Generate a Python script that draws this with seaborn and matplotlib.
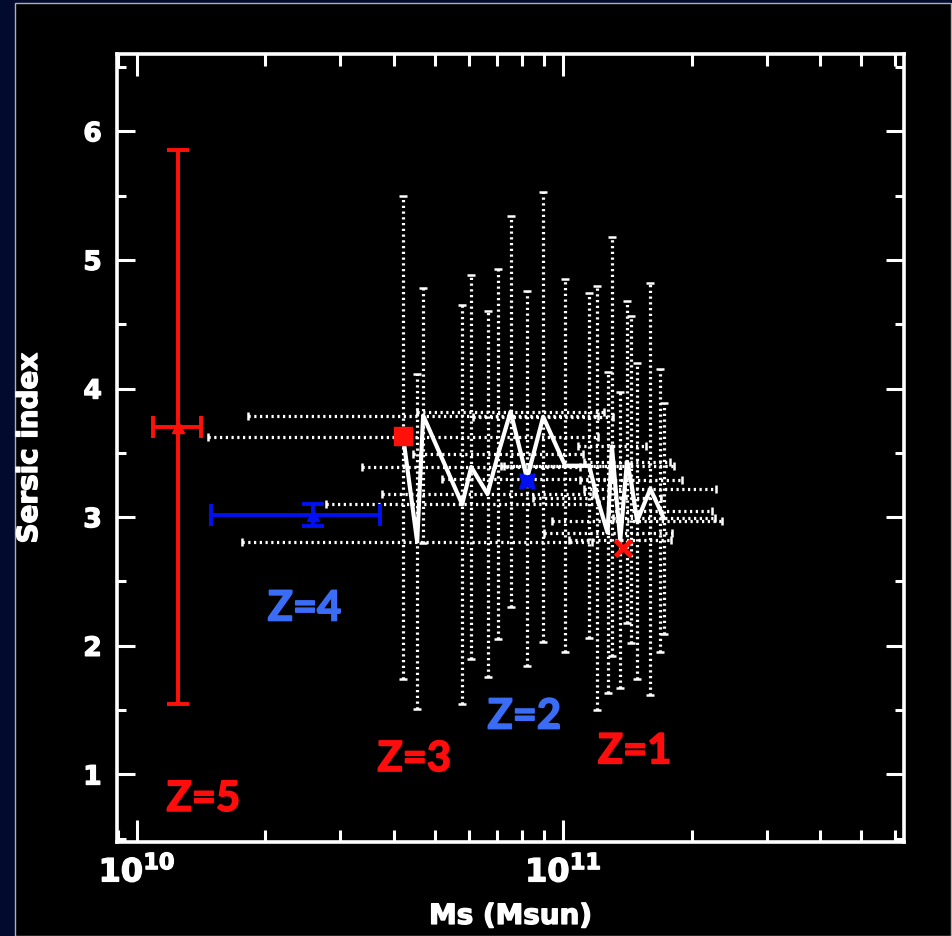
import numpy as np
import matplotlib
matplotlib.use("Agg")
import matplotlib.pyplot as plt
import matplotlib.patheffects as pe
from matplotlib.patches import Rectangle
from matplotlib.ticker import MultipleLocator, NullFormatter
import seaborn as sns

# individual galaxies (z=1-3): stellar mass in 1e10 Msun, Sersic index, errors
gal_mass = [4.21, 4.54, 4.69, 5.79, 6.08, 6.64, 7.03, 7.52, 8.22, 8.97, 10.1,
            11.5, 12.0, 12.7, 13.0, 13.6, 14.1, 14.4, 14.9, 16.0, 16.9, 17.2]
gal_n = [3.62, 2.81, 3.79, 3.10, 3.39, 3.18, 3.49, 3.82, 3.30, 3.78, 3.40,
         3.40, 3.15, 2.88, 3.55, 2.82, 3.43, 3.29, 2.97, 3.22, 3.05, 2.99]
gal_mass_dex = [0.457, 0.41, 0.41, 0.32, 0.256, 0.247, 0.20, 0.22, 0.20, 0.164, 0.15,
                0.20, 0.15, 0.15, 0.08, 0.12, 0.10, 0.12, 0.20, 0.155, 0.12, 0.12]
gal_n_err = [1.88, 1.30, 0.99, 1.55, 1.49, 1.42, 1.44, 1.52, 1.46, 1.75, 1.45,
             1.34, 1.65, 1.25, 1.63, 1.15, 1.25, 1.27, 1.23, 1.60, 1.10, 0.90]

# mean values per redshift bin
z_labels = ["Z=5", "Z=4", "Z=3", "Z=2", "Z=1"]
z_mass = [1.25, 2.58, 4.21, 8.2, 13.8]
z_n = [3.70, 3.02, 3.63, 3.28, 2.76]
z5_mass_range = [1.09, 1.41]
z5_n_range = [1.55, 5.85]
z4_mass_range = [1.49, 3.71]
z4_n_range = [2.93, 3.10]

RED = "#ff1008"
BLUE = "#0010f0"
TXT_RED = "#ff0d0d"
TXT_BLUE = "#3a6cf5"

sns.set_theme(style="ticks")
plt.rcParams["font.family"] = ["DejaVu Sans"]
plt.rcParams["font.weight"] = "bold"
plt.rcParams["mathtext.fontset"] = "dejavusans"
plt.rcParams["mathtext.default"] = "bf"

fig = plt.figure(figsize=(9.52, 9.37), dpi=100, facecolor="#020a2e")
fig.add_artist(Rectangle((15 / 952, 0), 936 / 952, 933 / 937, transform=fig.transFigure,
                         facecolor="black", edgecolor="#b0b0b0", lw=1, zorder=0))
ax = fig.add_axes([0.1229, 0.1003, 0.8267, 0.8410])
ax.set_facecolor("black")

mass = np.array(gal_mass) * 1e10
n = np.array(gal_n)
dex = np.array(gal_mass_dex)
xerr = [mass - mass / 10**dex, mass * 10**dex - mass]

# dotted error bars of individual galaxies
eb = ax.errorbar(mass, n, xerr=xerr, yerr=gal_n_err, fmt="none", ecolor="white",
                 elinewidth=2.3, capsize=3, capthick=1.8, zorder=2)
for lc in eb.lines[2]:
    lc.set_linestyle((0, (0.7, 1.1)))

# connecting line
sns.lineplot(x=mass, y=n, estimator=None, sort=True, color="white", lw=3,
             ax=ax, zorder=3)

# z=5 and z=4 means with error bars
for i, (mr, nr, col) in enumerate([(z5_mass_range, z5_n_range, RED),
                                   (z4_mass_range, z4_n_range, BLUE)]):
    xm = z_mass[i] * 1e10
    ax.errorbar([xm], [z_n[i]],
                xerr=[[xm - mr[0] * 1e10], [mr[1] * 1e10 - xm]],
                yerr=[[z_n[i] - nr[0]], [nr[1] - z_n[i]]],
                fmt="^", color=col, ms=8, elinewidth=2.8, capsize=8, capthick=2.8, zorder=5)

sns.scatterplot(x=[z_mass[2] * 1e10], y=[z_n[2]], marker="s", s=160, color=RED,
                edgecolor=RED, ax=ax, zorder=6)
sns.scatterplot(x=[z_mass[3] * 1e10], y=[z_n[3]], marker=(4, 1, 45), s=220, color=BLUE,
                edgecolor=BLUE, linewidth=1.5, ax=ax, zorder=6)
ax.plot([z_mass[4] * 1e10], [z_n[4]], marker="x", ms=12, mew=3.5, color=RED, zorder=6)

# redshift labels
label_pos = [(1.43e10, 0.81), (2.47e10, 2.29), (4.47e10, 1.12), (8.1e10, 1.45), (1.47e11, 1.18)]
label_col = [TXT_RED, TXT_BLUE, TXT_RED, TXT_BLUE, TXT_RED]
for lab, (px, py), col in zip(z_labels, label_pos, label_col):
    ax.text(px, py, lab, color=col, fontsize=30, fontweight="bold", family="Lato",
            ha="center", va="center",
            path_effects=[pe.withStroke(linewidth=1.2, foreground=col)])

ax.set_xscale("log")
ax.set_xlim(8.97e9, 6.3e11)
ax.set_ylim(0.475, 6.6)
ax.yaxis.set_major_locator(MultipleLocator(1))
ax.yaxis.set_minor_locator(MultipleLocator(0.5))
ax.xaxis.set_minor_formatter(NullFormatter())

for sp in ax.spines.values():
    sp.set_color("white")
    sp.set_linewidth(2.6)
ax.tick_params(which="both", direction="in", top=True, right=True, colors="white", width=2.2)
ax.tick_params(axis="y", which="major", length=13, labelsize=19, pad=11)
ax.tick_params(axis="y", which="minor", length=6.5)
ax.tick_params(axis="x", which="major", length=16, labelsize=23, pad=10)
ax.tick_params(axis="x", which="minor", length=8.5)

ax.set_xlabel("Ms (Msun)", fontsize=20, fontweight="bold", color="white")
ax.set_ylabel("Sersic index", fontsize=20, fontweight="bold", color="white")
ax.xaxis.set_label_coords(0.5, -0.076)
ax.yaxis.set_label_coords(-0.094, 0.5)

# heavier strokes, like the original's thick vector font
heavy = [pe.withStroke(linewidth=1.0, foreground="white")]
for t in ax.get_xticklabels() + ax.get_yticklabels() + [ax.xaxis.label, ax.yaxis.label]:
    t.set_path_effects(heavy)

fig.savefig("out.png", dpi=100, facecolor=fig.get_facecolor())
